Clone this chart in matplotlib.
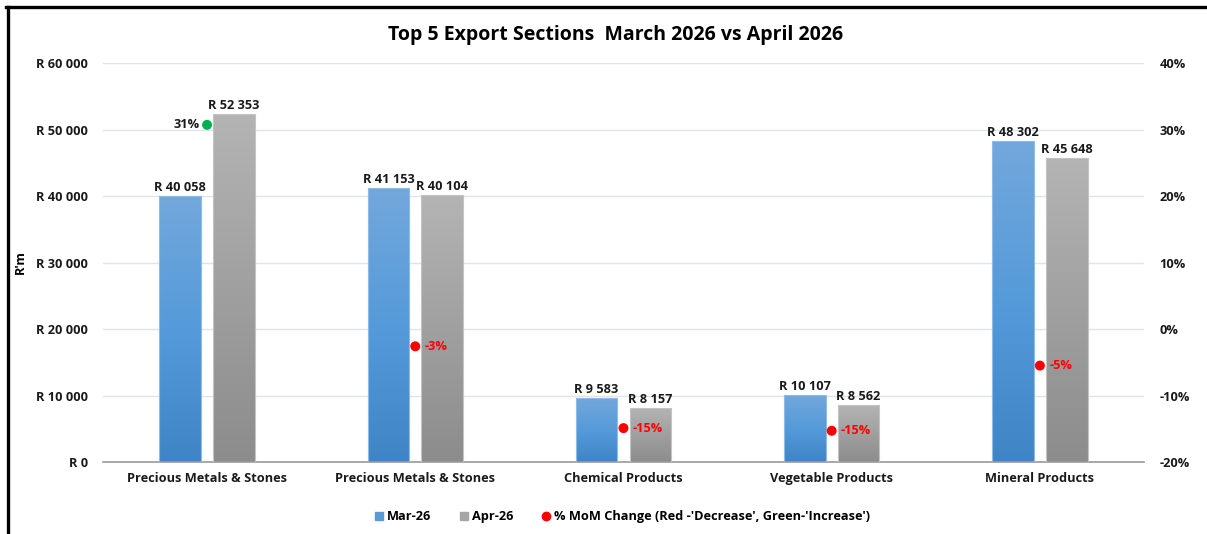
import numpy as np
import matplotlib
matplotlib.use("Agg")
import matplotlib.pyplot as plt
from matplotlib.colors import LinearSegmentedColormap
from matplotlib.lines import Line2D

plt.rcParams['font.family'] = ['Open Sans', 'DejaVu Sans']

categories = ["Precious Metals & Stones", "Precious Metals & Stones", "Chemical Products",
              "Vegetable Products", "Mineral Products"]
mar_26 = [40058, 41153, 9583, 10107, 48302]
apr_26 = [52353, 40104, 8157, 8562, 45648]
mom_change = [30.7, -2.6, -14.9, -15.3, -5.5]
mom_labels = ["31%", "-3%", "-15%", "-15%", "-5%"]

blue_cmap = LinearSegmentedColormap.from_list("blue", ["#3f85c6", "#559ad9", "#73a8dc"])
grey_cmap = LinearSegmentedColormap.from_list("grey", ["#8c8c8c", "#a0a0a0", "#b4b4b4"])

fs = 9.2

fig = plt.figure(figsize=(12.07, 5.34), dpi=100)
ax = fig.add_axes([0.0853, 0.1348, 0.8625, 0.7472])
ax2 = ax.twinx()

x = np.arange(len(categories))
w = 0.2
off = 0.129


def gradient_bars(xs, vals, cmap, edge):
    bars = ax.bar(xs, vals, w, color="none", edgecolor=edge, linewidth=0.8, zorder=3)
    grad = np.linspace(0, 1, 256).reshape(-1, 1)
    for b in bars:
        x0, y0 = b.get_x(), b.get_y()
        im = ax.imshow(grad, cmap=cmap, origin="lower", aspect="auto",
                       extent=[x0, x0 + b.get_width(), y0, y0 + b.get_height()], zorder=2)
        im.set_clip_path(b)
    return bars


b1 = gradient_bars(x - off, mar_26, blue_cmap, "#8fbbe6")
b2 = gradient_bars(x + off, apr_26, grey_cmap, "#c4c4c4")

for xs, vals in [(x - off, mar_26), (x + off, apr_26)]:
    for xi, v in zip(xs, vals):
        ax.text(xi, v + 300, "R " + f"{v:,}".replace(",", " "), ha="center", va="bottom",
                fontsize=fs, fontweight="bold", color="#1a1a1a", zorder=5)

ax.set_xlim(-0.5, len(categories) - 0.5)
ax.set_ylim(0, 60000)
ax.set_yticks(np.arange(0, 60001, 10000))
ax.set_yticklabels(["R " + f"{int(t):,}".replace(",", " ") for t in np.arange(0, 60001, 10000)])
ax.set_xticks(x)
ax.set_xticklabels(categories)
ax.set_aspect("auto")
ax.grid(axis="y", color="#dfe3ea", linewidth=1, zorder=0)
ax.set_axisbelow(True)
for s in ["top", "right", "left"]:
    ax.spines[s].set_visible(False)
ax.spines["bottom"].set_color("#9a9a9a")
ax.spines["bottom"].set_linewidth(1.2)
ax.tick_params(axis="both", length=0, labelsize=fs, colors="#1a1a1a")
ax.tick_params(axis="x", pad=7)
ax.tick_params(axis="y", pad=11)
for lbl in ax.get_xticklabels() + ax.get_yticklabels():
    lbl.set_fontweight("bold")
ax.set_ylabel("R'm", fontsize=fs, fontweight="bold")
ax.yaxis.set_label_coords(-0.073, 0.5)

ax2.set_ylim(-20, 40)
ax2.set_yticks(np.arange(-20, 41, 10))
ax2.set_yticklabels([f"{t}%" for t in np.arange(-20, 41, 10)])
ax2.tick_params(axis="y", length=0, labelsize=fs, colors="#1a1a1a", pad=11)
for lbl in ax2.get_yticklabels():
    lbl.set_fontweight("bold")
for s in ax2.spines.values():
    s.set_visible(False)

dot_colors = ["#00b050" if v > 0 else "#ff0000" for v in mom_change]
ax2.scatter(x, mom_change, s=38, c=dot_colors, zorder=6)
for xi, v, lab in zip(x, mom_change, mom_labels):
    if v > 0:
        ax2.text(xi - 0.035, v, lab, ha="right", va="center", fontsize=fs,
                 fontweight="bold", color="#1a1a1a", zorder=7)
    else:
        ax2.text(xi + 0.045, v, lab, ha="left", va="center", fontsize=fs,
                 fontweight="bold", color="#ff0000", zorder=7)

fig.text(0.51, 0.934, "Top 5 Export Sections  March 2026 vs April 2026", ha="center", va="center",
         fontsize=14, fontweight="bold", color="#000000")

handles = [
    Line2D([], [], marker="s", linestyle="none", color="#5b9bd5", markersize=5.5),
    Line2D([], [], marker="s", linestyle="none", color="#a5a5a5", markersize=5.5),
    Line2D([], [], marker="o", linestyle="none", color="#ff0000", markersize=6),
]
fig.legend(handles, ["Mar-26", "Apr-26", "% MoM Change (Red -'Decrease', Green-'Increase')"],
           loc="center", bbox_to_anchor=(0.513, 0.032), ncol=3, frameon=False,
           prop={"size": fs, "weight": "bold"}, handletextpad=-0.2, handlelength=1.6,
           columnspacing=1.8)

# frame lines on the top and left edge
fig.add_artist(Line2D([6 / 1207, 1], [527 / 534, 527 / 534], color="black", linewidth=2.4,
                      transform=fig.transFigure))
fig.add_artist(Line2D([7.5 / 1207, 7.5 / 1207], [0, 527 / 534], color="black", linewidth=2.4,
                      transform=fig.transFigure))

fig.savefig("out.png", dpi=100)
